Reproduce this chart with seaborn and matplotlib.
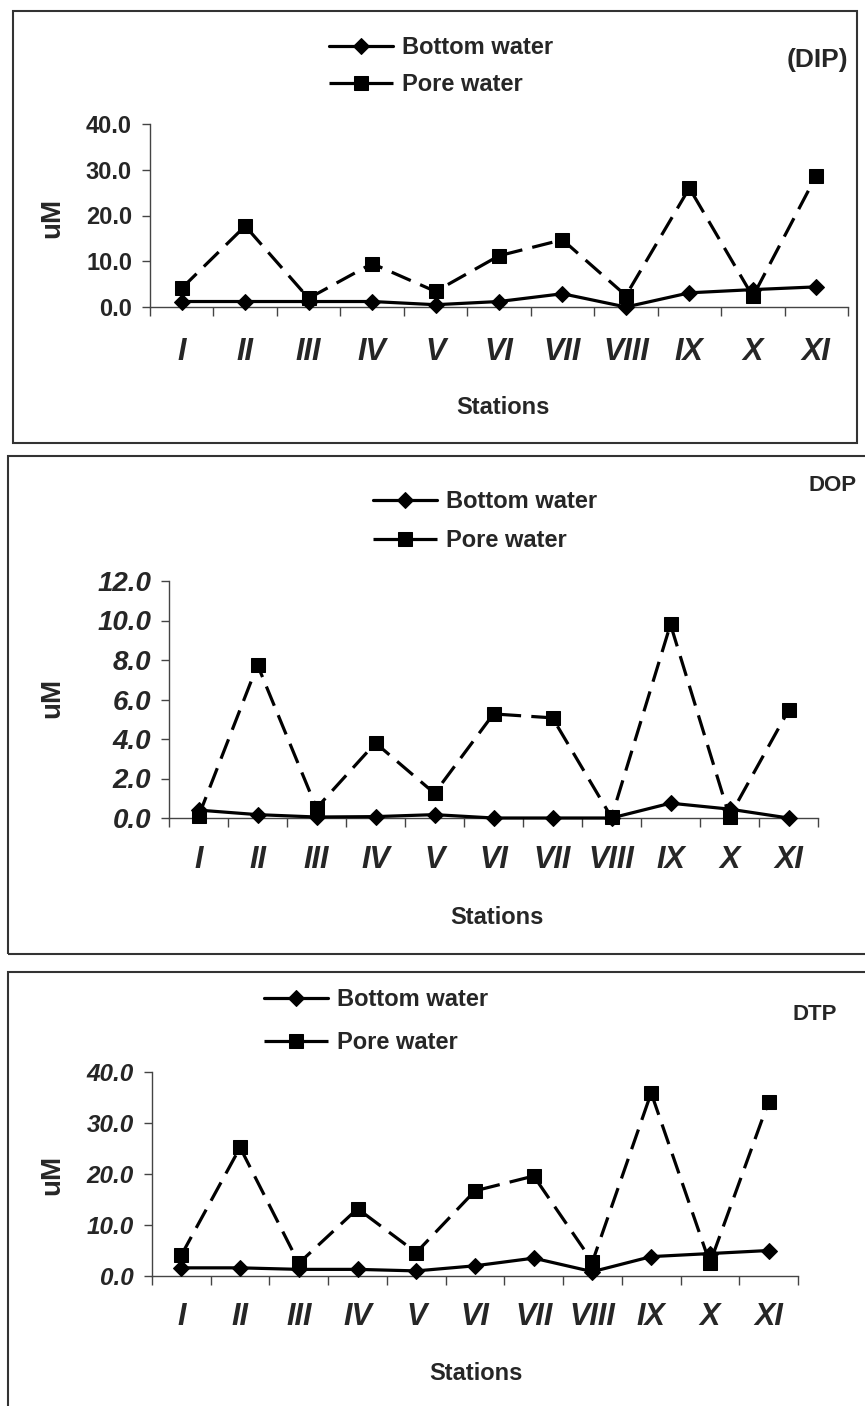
import numpy as np
import pandas as pd
import matplotlib
matplotlib.use("Agg")
import matplotlib.pyplot as plt
from matplotlib.patches import Rectangle
import seaborn as sns

# ---------------- data ----------------
stations = ['I', 'II', 'III', 'IV', 'V', 'VI', 'VII', 'VIII', 'IX', 'X', 'XI']

dip_bottom = [1.2, 1.2, 1.2, 1.2, 0.5, 1.2, 2.9, 0.0, 3.1, 3.8, 4.4]
dip_pore = [4.1, 17.7, 1.9, 9.5, 3.4, 11.2, 14.7, 2.5, 26.0, 2.3, 28.7]

dop_bottom = [0.40, 0.17, 0.05, 0.07, 0.17, 0.0, 0.0, 0.0, 0.75, 0.45, 0.0]
dop_pore = [0.08, 7.75, 0.50, 3.80, 1.25, 5.27, 5.07, 0.03, 9.80, 0.07, 5.45]

dtp_bottom = [1.6, 1.6, 1.3, 1.3, 1.0, 2.0, 3.5, 0.85, 3.8, 4.4, 5.0]
dtp_pore = [4.1, 25.2, 2.5, 13.2, 4.6, 16.7, 19.6, 2.8, 35.9, 2.5, 34.2]

series_labels = ['Bottom water', 'Pore water']
panel_titles = ['(DIP)', 'DOP', 'DTP']
y_label = 'uM'
x_label = 'Stations'

# ---------------- style ----------------
sns.set_style('white')
plt.rcParams['font.family'] = ['Liberation Sans', 'DejaVu Sans']
plt.rcParams['font.weight'] = 'bold'

W, H = 865, 1406
fig = plt.figure(figsize=(W / 100, H / 100), dpi=100)


def fx(px):
    return px / W


def fy(py):
    return 1 - py / H


PX = 72 / 100  # points per pixel

panels = [
    dict(bottom=dip_bottom, pore=dip_pore, ymax=40, ystep=10, title=panel_titles[0],
         title_size=19,
         ax=(150, 848, 124, 307), ytick_size=17, ytick_style='normal',
         box=(13, 11, 857, 443), leg=(329, 36, 0.6), title_pos=(848, 60),
         ylab=(52, 218), xlab=(503, 407), xpad=30),
    dict(bottom=dop_bottom, pore=dop_pore, ymax=12, ystep=2, title=panel_titles[1],
         title_size=16,
         ax=(169, 818, 581, 818), ytick_size=20, ytick_style='italic',
         box=(8, 456, 870, 954), leg=(373, 490, 0.68), title_pos=(857, 485),
         ylab=(52, 698), xlab=(497, 917), xpad=27),
    dict(bottom=dtp_bottom, pore=dtp_pore, ymax=40, ystep=10, title=panel_titles[2],
         title_size=16,
         ax=(152, 798, 1072, 1276), ytick_size=17.5, ytick_style='italic',
         box=(8, 972, 870, 1412), leg=(264, 988, 0.85), title_pos=(837, 1014),
         ylab=(52, 1175), xlab=(476, 1373), xpad=26),
]

spine_col = '#444444'

for p in panels:
    left, right, top, bot = p['ax']
    ax = fig.add_axes([fx(left), fy(bot), (right - left) / W, (bot - top) / H])
    ax.set_facecolor('none')

    df_b = pd.DataFrame({'station': stations, 'value': p['bottom']})
    df_p = pd.DataFrame({'station': stations, 'value': p['pore']})

    sns.lineplot(data=df_b, x='station', y='value', sort=False, errorbar=None,
                 color='black', lw=2.3, marker='D', markersize=8.5,
                 markeredgecolor='black', markerfacecolor='black',
                 label=series_labels[0], ax=ax, clip_on=False, legend=False)
    sns.lineplot(data=df_p, x='station', y='value', sort=False, errorbar=None,
                 color='black', lw=2.3, marker='s', markersize=10,
                 markeredgecolor='black', markerfacecolor='black',
                 label=series_labels[1], ax=ax, clip_on=False, legend=False)
    lines = ax.get_lines()
    lines[1].set_dashes((6.5, 3.2))
    for ln in lines:
        ln.set_clip_on(False)
    lines[0].set_zorder(3)
    lines[1].set_zorder(4)

    ax.set_xlim(-0.5, len(stations) - 0.5)
    ax.set_ylim(0, p['ymax'])
    ax.set_xticks(range(len(stations)))
    ax.set_xticklabels(stations)
    ax.set_xticks(np.arange(-0.5, len(stations), 1.0), minor=True)
    ax.set_yticks(np.arange(0, p['ymax'] + 0.01, p['ystep']))
    ax.yaxis.set_major_formatter(matplotlib.ticker.FormatStrFormatter('%.1f'))

    ax.tick_params(axis='x', which='major', length=0, pad=p['xpad'] * PX,
                   labelsize=22)
    ax.tick_params(axis='x', which='minor', length=9 * PX, width=1,
                   color=spine_col, direction='out', bottom=True)
    ax.tick_params(axis='y', which='major', length=8 * PX, width=1,
                   color=spine_col, direction='out', left=True, pad=10 * PX,
                   labelsize=p['ytick_size'])
    for t in ax.get_xticklabels():
        t.set_fontstyle('italic')
        t.set_fontweight('bold')
    for t in ax.get_yticklabels():
        t.set_fontstyle(p['ytick_style'])
        t.set_fontweight('bold')

    for s in ['top', 'right']:
        ax.spines[s].set_visible(False)
    for s in ['left', 'bottom']:
        ax.spines[s].set_color(spine_col)
        ax.spines[s].set_linewidth(1)
    ax.set_xlabel('')
    ax.set_ylabel('')
    ax.grid(False)

    # legend
    lx, ly, lsp = p['leg']
    leg = ax.legend(handles=lines, labels=series_labels, loc='upper left',
                    bbox_to_anchor=(fx(lx), fy(ly)), bbox_transform=fig.transFigure,
                    frameon=False, borderpad=0, borderaxespad=0, handlelength=2.7,
                    handletextpad=0.4, labelspacing=lsp,
                    prop=dict(family='Liberation Sans', weight='bold', size=17))
    leg.get_lines()[1].set_dashes((9.5, 1.2))

    # panel title
    tx, ty = p['title_pos']
    fig.text(fx(tx), fy(ty), p['title'], ha='right', va='center',
             fontsize=p['title_size'], fontweight='bold')
    # axis labels
    yx, yy = p['ylab']
    fig.text(fx(yx), fy(yy), y_label, rotation=90, ha='center', va='center',
             fontsize=20, fontweight='bold')
    xx, xy = p['xlab']
    fig.text(fx(xx), fy(xy), x_label, ha='center', va='center',
             fontsize=17, fontweight='bold')

    # frame around panel
    bl, bt, br, bb = p['box']
    fig.add_artist(Rectangle((fx(bl), fy(bb)), (br - bl) / W, (bb - bt) / H,
                             transform=fig.transFigure, fill=False,
                             ec='#333333', lw=1.5))

fig.savefig('out.png', dpi=100, facecolor='white')
